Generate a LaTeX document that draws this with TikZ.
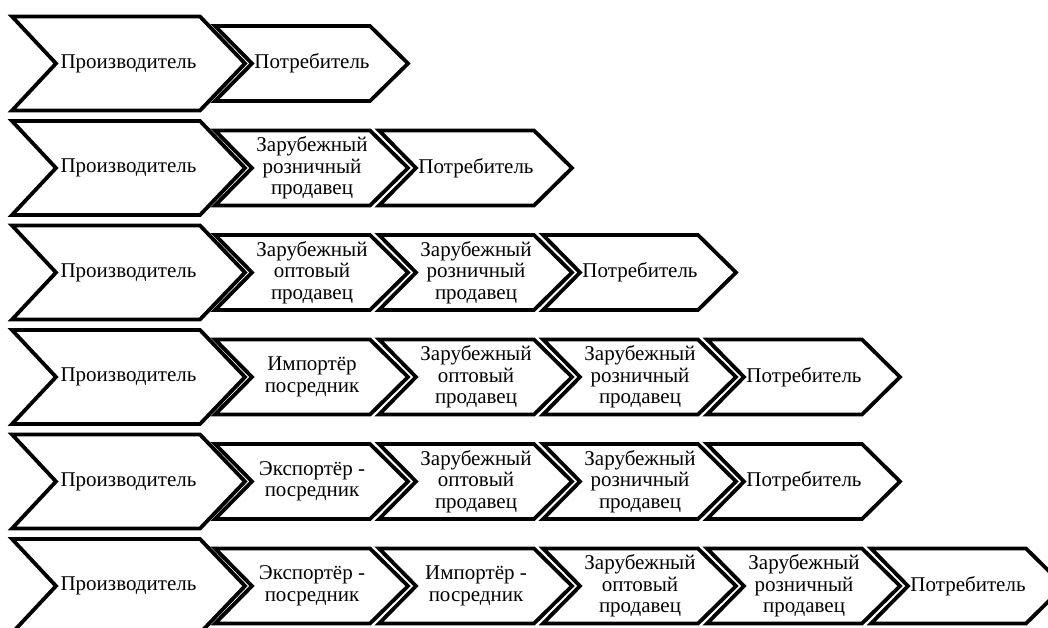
\documentclass[tikz,border=0pt]{standalone}
\usepackage{fontspec}
\setmainfont{Liberation Serif}

\tikzset{
  chev/.style={draw=black, fill=white, line width=3.8pt, line join=miter},
  lbl/.style={align=center, inner sep=0pt, font=\fontsize{21}{21.5}\selectfont},
  bigchev/.pic={\path[chev] (-116.5,-47) -- (71.5,-47) -- (116.5,0) -- (71.5,47) -- (-116.5,47) -- (-72.5,0) -- cycle;},
  smallchev/.pic={\path[chev] (-97,-37.5) -- (58,-37.5) -- (96,0) -- (58,37.5) -- (-97,37.5) -- (-60,0) -- cycle;}
}

\begin{document}
\begin{tikzpicture}[x=1pt, y=-1pt]
  \useasboundingbox (0,0) rectangle (1048,628);

  % row 1
  \pic at (128.5,63.5) {bigchev};
  \node[lbl] (r1a) at (128.5,63.5) {Производитель};
  \foreach \t [count=\i] in {Потребитель}
    {\pic at (148+164*\i,63.5) {smallchev};
     \node[lbl] (r1n\i) at (148+164*\i,63.5) {\t};}

  % row 2
  \pic at (128.5,168) {bigchev};
  \node[lbl] (r2a) at (128.5,168) {Производитель};
  \foreach \t [count=\i] in {Зарубежный\\розничный\\продавец, Потребитель}
    {\pic at (148+164*\i,168) {smallchev};
     \node[lbl] (r2n\i) at (148+164*\i,168) {\t};}

  % row 3
  \pic at (128.5,272.5) {bigchev};
  \node[lbl] (r3a) at (128.5,272.5) {Производитель};
  \foreach \t [count=\i] in {Зарубежный\\оптовый\\продавец, Зарубежный\\розничный\\продавец, Потребитель}
    {\pic at (148+164*\i,272.5) {smallchev};
     \node[lbl] (r3n\i) at (148+164*\i,272.5) {\t};}

  % row 4
  \pic at (128.5,377) {bigchev};
  \node[lbl] (r4a) at (128.5,377) {Производитель};
  \foreach \t [count=\i] in {Импортёр\\посредник, Зарубежный\\оптовый\\продавец, Зарубежный\\розничный\\продавец, Потребитель}
    {\pic at (148+164*\i,377) {smallchev};
     \node[lbl] (r4n\i) at (148+164*\i,377) {\t};}

  % row 5
  \pic at (128.5,481.5) {bigchev};
  \node[lbl] (r5a) at (128.5,481.5) {Производитель};
  \foreach \t [count=\i] in {Экспортёр -\\посредник, Зарубежный\\оптовый\\продавец, Зарубежный\\розничный\\продавец, Потребитель}
    {\pic at (148+164*\i,481.5) {smallchev};
     \node[lbl] (r5n\i) at (148+164*\i,481.5) {\t};}

  % row 6
  \pic at (128.5,586) {bigchev};
  \node[lbl] (r6a) at (128.5,586) {Производитель};
  \foreach \t [count=\i] in {Экспортёр -\\посредник, Импортёр -\\посредник, Зарубежный\\оптовый\\продавец, Зарубежный\\розничный\\продавец, Потребитель}
    {\pic at (148+164*\i,586) {smallchev};
     \node[lbl] (r6n\i) at (148+164*\i,586) {\t};}
\end{tikzpicture}
\end{document}
